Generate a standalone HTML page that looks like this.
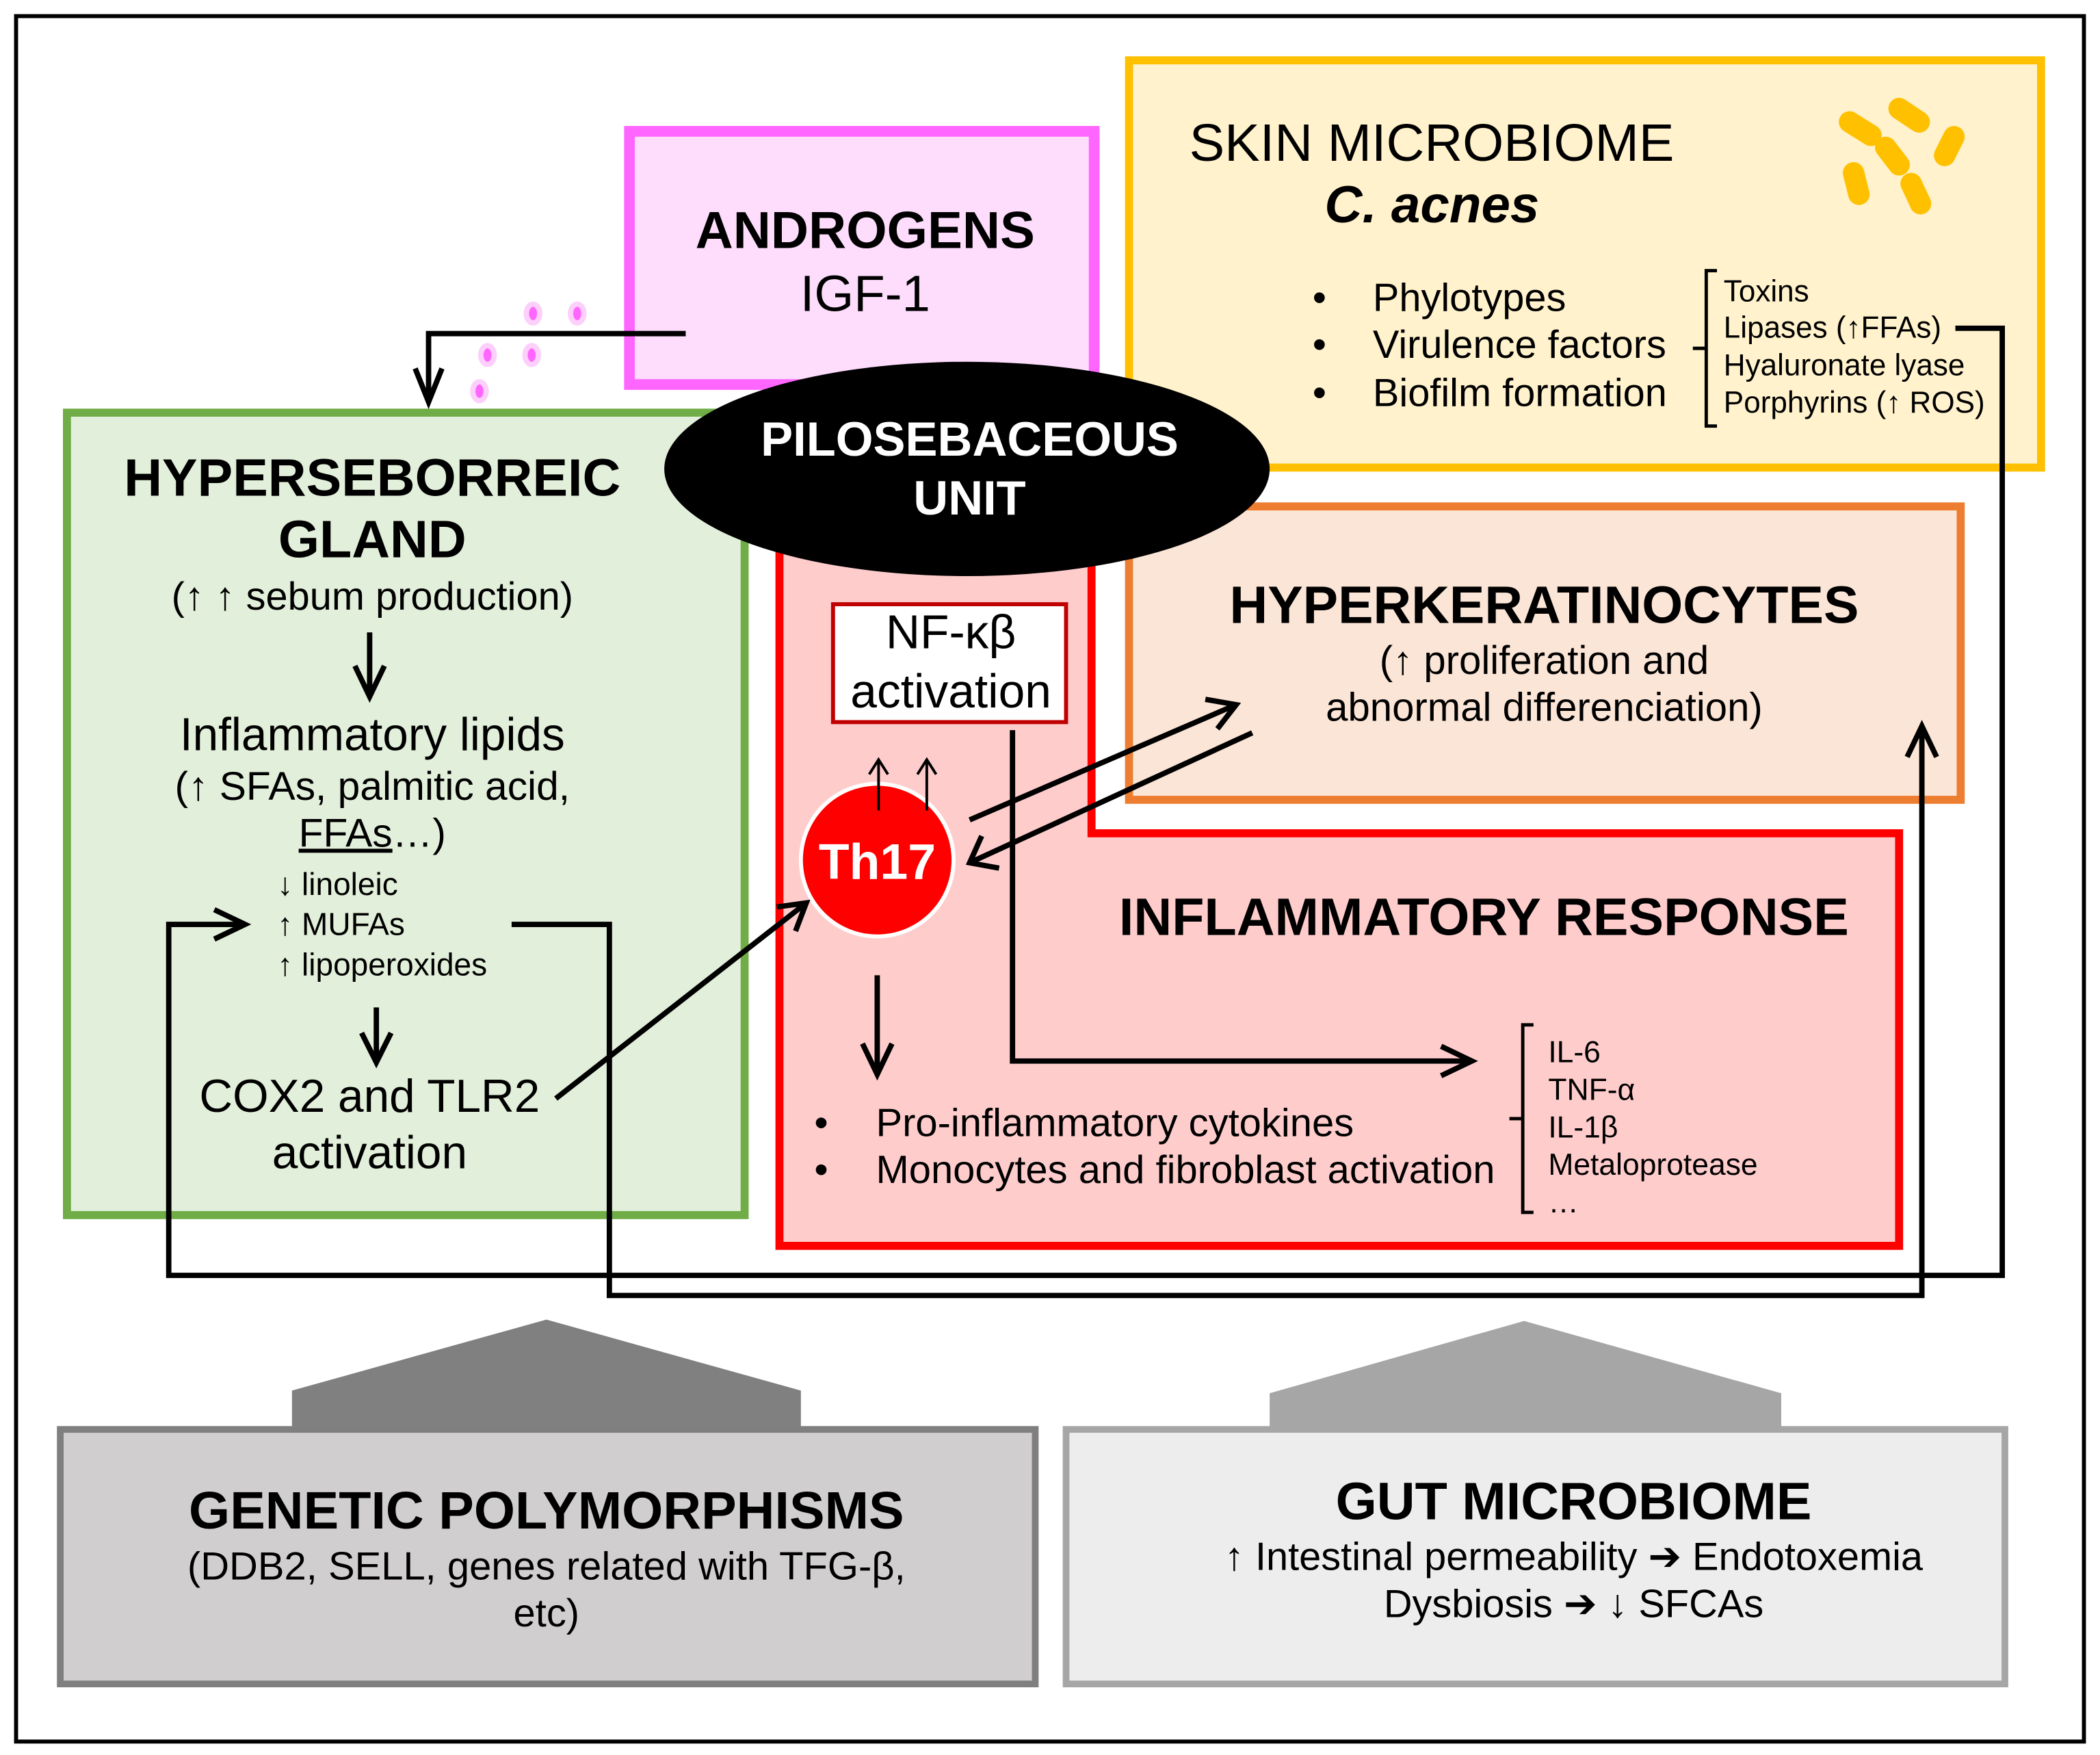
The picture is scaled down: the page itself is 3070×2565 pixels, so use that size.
<!DOCTYPE html>
<html><head><meta charset="utf-8"><style>html,body{margin:0;padding:0;background:#fff}svg{display:block}</style></head>
<body>
<svg width="3070" height="2565" viewBox="0 0 1568 1310" xmlns="http://www.w3.org/2000/svg" font-family="Liberation Sans, Arial, sans-serif">
<rect x="0" y="0" width="1568" height="1310" fill="#fff"/>
<rect x="12" y="12" width="1544" height="1288" fill="none" stroke="#000" stroke-width="3"/>

<!-- Skin microbiome -->
<rect x="843" y="45" width="681" height="304" fill="#fff2cc" stroke="#ffc000" stroke-width="6"/>
<g stroke="#ffc000" stroke-width="16" stroke-linecap="round">
<line x1="1381" y1="91" x2="1397" y2="101"/>
<line x1="1418" y1="81" x2="1433" y2="91"/>
<line x1="1459" y1="102" x2="1452" y2="116"/>
<line x1="1408" y1="110" x2="1418" y2="123"/>
<line x1="1384" y1="129" x2="1388" y2="145"/>
<line x1="1427" y1="137" x2="1434" y2="152"/>
</g>
<text x="888" y="120" font-size="39.5">SKIN MICROBIOME</text>
<text x="989" y="166" font-size="39" font-weight="bold" font-style="italic">C. acnes</text>
<g font-size="29.5">
<text x="980" y="232">•</text><text x="1025" y="232">Phylotypes</text>
<text x="980" y="267">•</text><text x="1025" y="267">Virulence factors</text>
<text x="980" y="303">•</text><text x="1025" y="303">Biofilm formation</text>
</g>
<g font-size="22.5">
<text x="1287" y="225">Toxins</text>
<text x="1287" y="252">Lipases (↑FFAs)</text>
<text x="1287" y="280">Hyaluronate lyase</text>
<text x="1287" y="308">Porphyrins (↑ ROS)</text>
</g>
<path d="M1282 202 H1274 V318 H1282 M1274 260 H1264" fill="none" stroke="#000" stroke-width="2.5"/>

<!-- Androgens -->
<rect x="470" y="98" width="347" height="189" fill="#fddcfc" stroke="#ff66ff" stroke-width="8"/>
<text x="646" y="185" font-size="39" font-weight="bold" text-anchor="middle">ANDROGENS</text>
<text x="646" y="232" font-size="38" text-anchor="middle">IGF-1</text>
<g fill="#ff66ff" stroke="#fcd0fb" stroke-width="4">
<ellipse cx="398" cy="234" rx="5" ry="7"/><ellipse cx="431" cy="234" rx="5" ry="7"/>
<ellipse cx="364" cy="265" rx="5" ry="7"/><ellipse cx="397" cy="265" rx="5" ry="7"/>
<ellipse cx="358" cy="292" rx="5" ry="7"/>
</g>

<!-- Green -->
<rect x="50" y="308" width="506" height="599" fill="#e2efda" stroke="#70ad47" stroke-width="6"/>
<text x="278" y="370" font-size="39.5" font-weight="bold" text-anchor="middle">HYPERSEBORREIC</text>
<text x="278" y="416" font-size="39.5" font-weight="bold" text-anchor="middle">GLAND</text>
<text x="278" y="455" font-size="29.5" text-anchor="middle">(↑ ↑ sebum production)</text>
<text x="278" y="560" font-size="34.5" text-anchor="middle">Inflammatory lipids</text>
<text x="278" y="597" font-size="30" text-anchor="middle">(↑ SFAs, palmitic acid,</text>
<text x="278" y="632" font-size="30" text-anchor="middle"><tspan text-decoration="underline">FFAs</tspan>…)</text>
<g font-size="23.5">
<text x="207" y="668">↓ linoleic</text>
<text x="207" y="698">↑ MUFAs</text>
<text x="207" y="728">↑ lipoperoxides</text>
</g>
<text x="276" y="830" font-size="34.5" text-anchor="middle">COX2 and TLR2</text>
<text x="276" y="872" font-size="34.5" text-anchor="middle">activation</text>

<!-- Red region -->
<path d="M582 400 H815 V622 H1418 V930 H582 Z" fill="#ffcccc" stroke="#ff0000" stroke-width="6"/>
<rect x="843" y="378" width="621" height="219" fill="#fbe5d6" stroke="#ed7d31" stroke-width="6"/>
<text x="1153" y="465" font-size="39.4" font-weight="bold" text-anchor="middle">HYPERKERATINOCYTES</text>
<text x="1153" y="503" font-size="29.7" text-anchor="middle">(↑ proliferation and</text>
<text x="1153" y="538" font-size="29.7" text-anchor="middle">abnormal differenciation)</text>
<text x="1108" y="698" font-size="39.5" font-weight="bold" text-anchor="middle">INFLAMMATORY RESPONSE</text>
<g font-size="29.6">
<text x="608" y="848">•</text><text x="654" y="848">Pro-inflammatory cytokines</text>
<text x="608" y="883">•</text><text x="654" y="883">Monocytes and fibroblast activation</text>
</g>
<g font-size="22.7">
<text x="1156" y="793">IL-6</text>
<text x="1156" y="821">TNF-α</text>
<text x="1156" y="849">IL-1β</text>
<text x="1156" y="877">Metaloprotease</text>
<text x="1156" y="905">…</text>
</g>
<path d="M1145 765 H1137 V905 H1145 M1137 835 H1127" fill="none" stroke="#000" stroke-width="2.5"/>

<ellipse cx="722" cy="350" rx="226" ry="80" fill="#000"/>
<text x="724" y="340" font-size="36" font-weight="bold" fill="#fff" text-anchor="middle">PILOSEBACEOUS</text>
<text x="724" y="384" font-size="36" font-weight="bold" fill="#fff" text-anchor="middle">UNIT</text>

<rect x="622" y="451" width="174" height="88" fill="#fff" stroke="#c00000" stroke-width="3"/>
<text x="710" y="484" font-size="35.5" text-anchor="middle">NF-κβ</text>
<text x="710" y="528" font-size="35.5" text-anchor="middle">activation</text>

<circle cx="655" cy="642" r="57" fill="#ff0000" stroke="#fff" stroke-width="3"/>
<text x="655" y="656" font-size="37.5" font-weight="bold" fill="#fff" text-anchor="middle">Th17</text>
<g fill="none" stroke="#000" stroke-width="2">
<path d="M656 605 V567 M649 578 L656 567 L663 578"/>
<path d="M692 605 V567 M685 578 L692 567 L699 578"/>
</g>

<!-- Bottom -->
<polygon points="218,1068 218,1038 408,985 598,1038 598,1068" fill="#808080"/>
<rect x="45" y="1067" width="728" height="190" fill="#d0cece" stroke="#7f7f7f" stroke-width="5"/>
<text x="408" y="1141" font-size="39.5" font-weight="bold" text-anchor="middle">GENETIC POLYMORPHISMS</text>
<text x="408" y="1179" font-size="29.6" text-anchor="middle">(DDB2, SELL, genes related with TFG-β,</text>
<text x="408" y="1214" font-size="29.6" text-anchor="middle">etc)</text>
<polygon points="948,1068 948,1040 1138,986 1330,1040 1330,1068" fill="#a6a6a6"/>
<rect x="796" y="1067" width="701" height="190" fill="#ededed" stroke="#a6a6a6" stroke-width="5"/>
<text x="1175" y="1134" font-size="39.5" font-weight="bold" text-anchor="middle">GUT MICROBIOME</text>
<text x="1175" y="1172" font-size="29.5" text-anchor="middle">↑ Intestinal permeability ➔ Endotoxemia</text>
<text x="1175" y="1207" font-size="29.5" text-anchor="middle">Dysbiosis ➔ ↓ SFCAs</text>

<!-- Connectors -->
<g fill="none" stroke="#000" stroke-width="4" stroke-linejoin="miter">
<path d="M512 249 H320 V300"/><path d="M310 275 L320 300 L330 275"/>
<path d="M276 472 V520"/><path d="M265 497 L276 520 L287 497"/>
<path d="M281 752 V793"/><path d="M270 771 L281 793 L292 771"/>
<path d="M382 690 H455 V967 H1435 V542"/><path d="M1424 565 L1435 542 L1446 565"/>
<path d="M1460 245 H1495 V952 H126 V690 H183"/><path d="M160 679 L183 690 L160 701"/>
<path d="M415 820 L602 674"/><path d="M580 677 L602 674 L594 695"/>
<path d="M724 612 L923 526"/><path d="M900 522 L923 526 L909 544"/>
<path d="M935 547 L724 644"/><path d="M733 624 L724 644 L746 648"/>
<path d="M756 545 V792 H1099"/><path d="M1076 781 L1099 792 L1076 803"/>
<path d="M655 728 V802"/><path d="M644 779 L655 802 L666 779"/>
</g>
</svg>
</body></html>
